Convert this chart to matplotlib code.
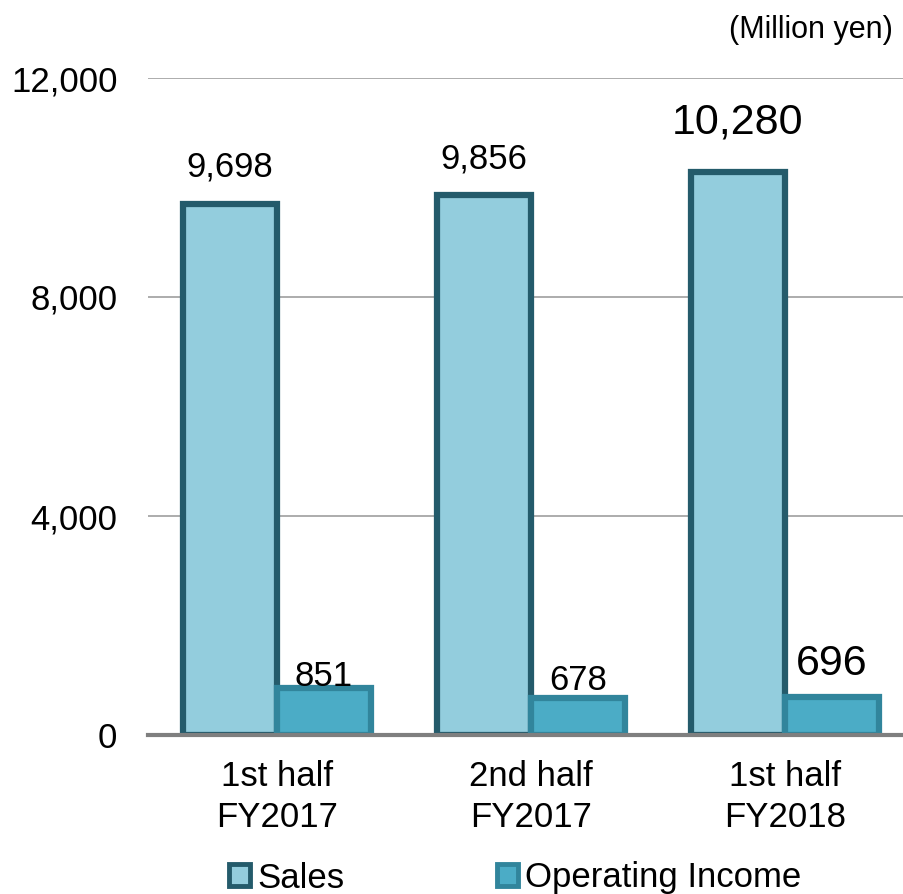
import numpy as np
import matplotlib.pyplot as plt
from matplotlib.patches import Patch

plt.rcParams['font.family'] = ['Liberation Sans', 'DejaVu Sans']

# data
categories = ['1st half\nFY2017', '2nd half\nFY2017', '1st half\nFY2018']
sales = [9698, 9856, 10280]
op_income = [851, 678, 696]
y_ticks = [0, 4000, 8000, 12000]

SALES_FACE = '#93cddd'
SALES_EDGE = '#245b6b'
OI_FACE = '#4bacc6'
OI_EDGE = '#31859c'

fig = plt.figure(figsize=(9.04, 8.94), dpi=100)
ax = fig.add_axes([148/904, 1-735/894, 756/904, 657/894])

x = np.arange(len(categories))
w = 0.37
ax.bar(x - w/2, sales, w, color=SALES_FACE, edgecolor=SALES_EDGE, linewidth=4.5, zorder=3)
ax.bar(x + w/2, op_income, w, color=OI_FACE, edgecolor=OI_EDGE, linewidth=4.5, zorder=3)

# value labels, last period printed bigger (offsets in points above bar top)
sales_off = [19.5, 19.5, 28]
oi_off = [2, 6, 16]
for i in range(len(categories)):
    fs = 31 if i == len(categories) - 1 else 25
    ax.annotate(f'{sales[i]:,}', (x[i] - w/2, sales[i]), xytext=(0, sales_off[i]),
                textcoords='offset points', ha='center', va='baseline', fontsize=fs, zorder=5)
    ax.annotate(f'{op_income[i]:,}', (x[i] + w/2, op_income[i]), xytext=(0, oi_off[i]),
                textcoords='offset points', ha='center', va='baseline', fontsize=fs, zorder=5)

ax.set_xlim(-0.508, 2.47)
ax.set_ylim(0, 12000)
ax.set_yticks(y_ticks)
ax.set_yticklabels([f'{v:,}' for v in y_ticks], fontsize=25)
ax.set_xticks(x)
ax.set_xticklabels(categories, fontsize=25, linespacing=1.3)
ax.tick_params(length=0)
ax.tick_params(axis='y', pad=22)
ax.tick_params(axis='x', pad=18)

ax.grid(axis='y', color='#969696', linewidth=1.1, zorder=0)
for s in ['top', 'right', 'left']:
    ax.spines[s].set_visible(False)
ax.spines['bottom'].set_color('#7f7f7f')
ax.spines['bottom'].set_linewidth(3)
ax.spines['bottom'].set_zorder(4)

fig.text(893/904, 1-30/894, '(Million yen)', ha='right', va='center', fontsize=22)

handles = [Patch(facecolor=SALES_FACE, edgecolor=SALES_EDGE, linewidth=3.5, label='Sales'),
           Patch(facecolor=OI_FACE, edgecolor=OI_EDGE, linewidth=3.5, label='Operating Income')]
fig.legend(handles=handles, loc='center', bbox_to_anchor=(0.57, 1-878/894), ncol=2,
           frameon=False, fontsize=25, handlelength=0.6, handleheight=0.6,
           handletextpad=0.2, columnspacing=4.4, borderaxespad=0)

fig.savefig('out.png', dpi=100)
